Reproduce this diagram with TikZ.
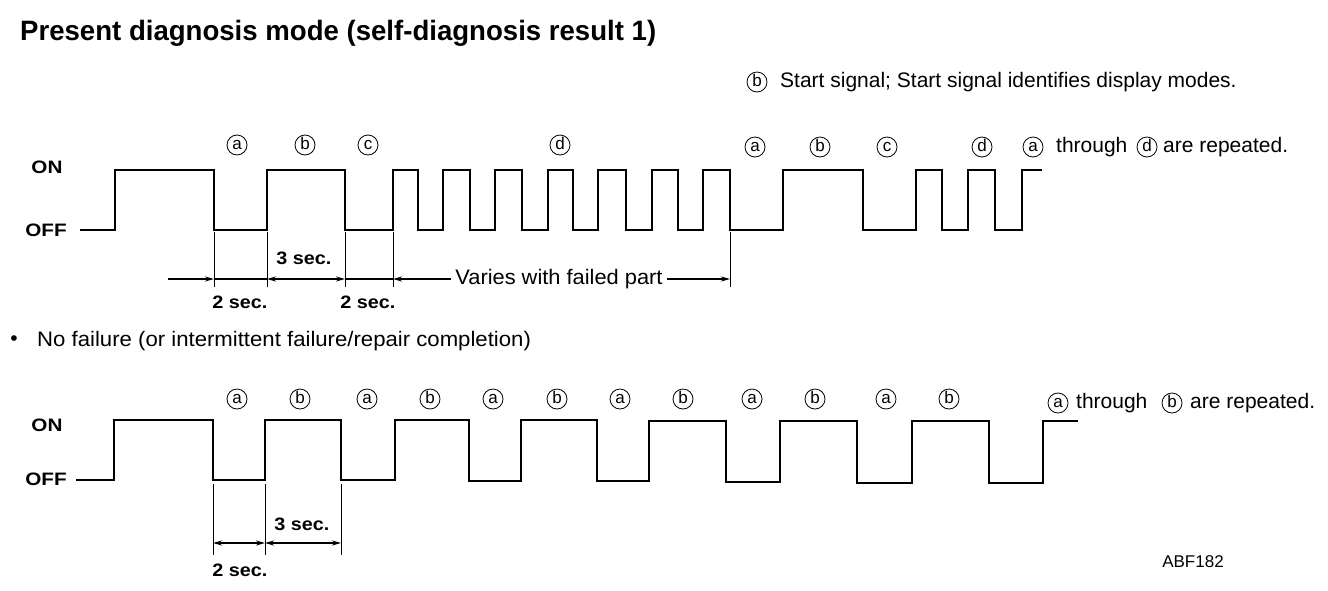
\documentclass[tikz,border=0pt]{standalone}
\usepackage{fontspec}
\setmainfont{Liberation Sans}
\usetikzlibrary{arrows.meta}
\newcommand{\wdtxt}[2]{\scalebox{#1}[1]{#2}}
\tikzset{
  wave/.style={line width=2.3pt, line join=miter, line cap=butt},
  ext/.style={line width=0.9pt},
  dimln/.style={line width=1.3pt},
  tip/.tip={Stealth[length=9pt,width=5pt]},
  txt/.style={inner sep=0pt, font=\fontsize{21}{24}\selectfont},
  bl/.style={inner sep=0pt, font=\fontsize{18}{20}\selectfont\bfseries},
  cl/.style={circle, draw, line width=0.8pt, inner sep=0pt, minimum size=20pt, text height=9.5pt, text depth=0pt, font=\fontsize{17}{17}\selectfont}
}
\begin{document}
\begin{tikzpicture}[x=1pt,y=-1pt]
\useasboundingbox (0,0) rectangle (1328,590);
% title
\node[inner sep=0pt, anchor=west] (title) at (20,33) {\wdtxt{0.985}{\fontsize{28}{32}\selectfont\bfseries Present diagnosis mode (self-diagnosis result 1)}};
% start signal note
\node[cl] (nb) at (757,82) {b};
\node[txt, anchor=west] (note) at (780,82) {Start signal; Start signal identifies display modes.};
% ---------- top waveform ----------
\node[bl] (on1) at (47,167) {\wdtxt{1.15}{ON}};
\node[bl] (off1) at (46,230) {\wdtxt{1.15}{OFF}};
\draw[wave] (80,230) -- (115,230) -- (115,170) -- (214,170) -- (214,230) -- (267,230) -- (267,170) -- (345,170) -- (345,230) -- (393,230) -- (393,170) -- (418,170) -- (418,230) -- (443,230) -- (443,170) -- (470,170) -- (470,230) -- (495,230) -- (495,170) -- (522,170) -- (522,230) -- (548,230) -- (548,170) -- (573,170) -- (573,230) -- (598,230) -- (598,170) -- (626,170) -- (626,230) -- (652,230) -- (652,170) -- (678,170) -- (678,230) -- (703,230) -- (703,170) -- (730,170) -- (730,230) -- (783,230) -- (783,170) -- (863,170) -- (863,230) -- (916,230) -- (916,170) -- (942,170) -- (942,230) -- (968,230) -- (968,170) -- (995,170) -- (995,230) -- (1022,230) -- (1022,170) -- (1042,170);
% labels top
\node[cl] (ta1) at (237,145) {a};
\node[cl] (tb1) at (305,145) {b};
\node[cl] (tc1) at (368,145) {c};
\node[cl] (td1) at (560,145) {d};
\node[cl] (ta2) at (755,147) {a};
\node[cl] (tb2) at (820,147) {b};
\node[cl] (tc2) at (887,147) {c};
\node[cl] (td2) at (982,147) {d};
\node[cl] (tra) at (1033,147) {a};
\node[txt, anchor=west] (trthr) at (1056,147) {through};
\node[cl] (trd) at (1147,147) {d};
\node[txt, anchor=west] (trrep) at (1163,147) {are repeated.};
% extension lines top
\foreach \x/\n in {214/e1,267/e2,345/e3,393/e4,730/e5}{
  \coordinate (\n t) at (\x,232);
  \coordinate (\n b) at (\x,287);
  \coordinate (\n) at (\x,279);
  \draw[ext] (\n t) -- (\n b);
}
\coordinate (e0) at (168,279);
\node[txt, inner xsep=4pt] (varies) at (559,279) {\wdtxt{1.04}{Varies with failed part}};
\draw[dimln,-tip] (e0) -- (e1);
\draw[dimln] (e1) -- (e2);
\draw[dimln,tip-tip] (e2) -- (e3);
\draw[dimln] (e3) -- (e4);
\draw[dimln,tip-] (e4) -- (varies.west);
\draw[dimln,-tip] (varies.east) -- (e5);
\node[bl] (s3a) at (304,258) {\wdtxt{1.1}{3 sec.}};
\node[bl] (s2a) at (240,302) {\wdtxt{1.1}{2 sec.}};
\node[bl] (s2b) at (368,302) {\wdtxt{1.1}{2 sec.}};
% bullet line
\node[txt] (bul) at (14,341) {•};
\node[txt, anchor=west] (nofail) at (37,341) {\wdtxt{1.055}{No failure (or intermittent failure/repair completion)}};
% ---------- bottom waveform ----------
\node[bl] (on2) at (47,425) {\wdtxt{1.15}{ON}};
\node[bl] (off2) at (46,479) {\wdtxt{1.15}{OFF}};
\draw[wave] (76,480) -- (114,480) -- (114,420) -- (213,420) -- (213,480) -- (265,480) -- (265,420) -- (341,420) -- (341,480) -- (395,480) -- (395,420) -- (469,420) -- (469,481) -- (521,481) -- (521,420) -- (597,420) -- (597,481) -- (649,481) -- (649,421) -- (726,421) -- (726,482) -- (780,482) -- (780,421) -- (857,421) -- (857,483) -- (912,483) -- (912,421) -- (989,421) -- (989,483) -- (1043,483) -- (1043,421) -- (1078,421);
\foreach \x/\l/\n in {237/a/1,300/b/2,367/a/3,430/b/4,493/a/5,557/b/6,620/a/7,683/b/8,752/a/9,815/b/10,886/a/11,949/b/12}{
  \node[cl] (bl\n) at (\x,399) {\l};
}
\node[cl] (bra) at (1058,403) {a};
\node[txt, anchor=west] (brthr) at (1076,403) {through};
\node[cl] (brb) at (1172,403) {b};
\node[txt, anchor=west] (brrep) at (1190,403) {are repeated.};
\foreach \x/\n in {213/f1,265/f2,341/f3}{
  \coordinate (\n t) at (\x,484);
  \coordinate (\n b) at (\x,555);
  \coordinate (\n) at (\x,543);
  \draw[ext] (\n t) -- (\n b);
}
\draw[dimln,tip-tip] (f1) -- (f2);
\draw[dimln,tip-tip] (f2) -- (f3);
\node[bl] (s3c) at (302,524) {\wdtxt{1.1}{3 sec.}};
\node[bl] (s2c) at (240,570) {\wdtxt{1.1}{2 sec.}};
\node[inner sep=0pt, font=\fontsize{17}{20}\selectfont] (code) at (1193,562) {ABF182};
\end{tikzpicture}
\end{document}
